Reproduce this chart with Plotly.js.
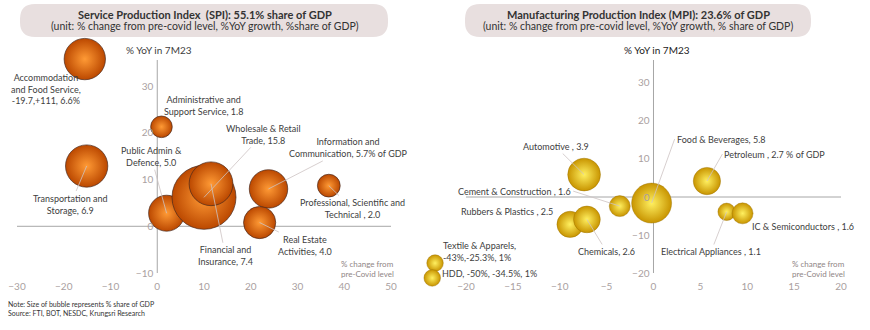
<!DOCTYPE html>
<html><head><meta charset="utf-8">
<script src="https://cdn.plot.ly/plotly-3.0.1.min.js"></script>
<style>html,body{margin:0;padding:0;background:#fff}#chart{width:870px;height:330px}</style>
</head><body><div id="chart"></div>
<script>
// ---------- Service Production Index (left) ----------
const svcNames = ['Accommodation and Food Service','Administrative and Support Service','Transportation and Storage','Public Admin & Defence','Wholesale & Retail Trade','Financial and Insurance','Information and Communication','Professional, Scientific and Technical','Real Estate Activities'];
const svcX = [-15.5, 0.9, -15.1, 2.0, 10.0, 11.5, 23.8, 36.7, 21.9];      // % change from pre-Covid level
const svcY = [35.8, 21.3, 12.9, 2.8, 6.2, 9.1, 8.0, 8.7, 0.8];           // % YoY in 7M23
const svcShare = [6.6, 1.8, 6.9, 5.0, 15.8, 7.4, 5.7, 2.0, 4.0];         // % share of GDP
const svcLabels = ['Accommodation<br>and Food Service,<br>-19.7,+111, 6.6%','Administrative and<br>Support Service, 1.8','Transportation and<br>Storage, 6.9','Public Admin &<br>Defence, 5.0','Wholesale & Retail<br>Trade, 15.8','Financial and<br>Insurance, 7.4','Information and<br>Communication, 5.7% of GDP','Professional, Scientific and<br>Technical , 2.0','Real Estate<br>Activities, 4.0'];
const svcXTicks = [-30,-20,-10,0,10,20,30,40,50];
const svcYTicks = [-10,0,10,20,30];

// ---------- Manufacturing Production Index (right) ----------
const mfgNames = ['Automotive','Petroleum','Food & Beverages','Cement & Construction','Rubbers & Plastics','Chemicals','Electrical Appliances','IC & Semiconductors','Textile & Apparels','HDD'];
const mfgX = [-7.4, 5.7, -0.2, -3.6, -8.9, -7.1, 7.8, 9.5, -23.3, -23.6];
const mfgY = [5.9, 4.2, -1.6, -2.4, -7.2, -5.9, -3.9, -4.3, -17.4, -21.3];
const mfgShare = [3.9, 2.7, 5.8, 1.6, 2.5, 2.6, 1.1, 1.6, 1, 1];
const mfgLabels = ['Automotive , 3.9','Petroleum , 2.7 % of GDP','Food & Beverages, 5.8','Cement & Construction , 1.6','Rubbers & Plastics , 2.5','Chemicals, 2.6','Electrical Appliances , 1.1','IC & Semiconductors , 1.6','Textile & Apparels,<br>-43%,-25.3%, 1%','HDD, -50%, -34.5%, 1%'];
const mfgXTicks = [-20,-15,-10,-5,0,5,10,15,20];
const mfgYTicks = [-20,-10,0,10,20,30];

// ---------- layout helpers (positions / styles) ----------
const W = 870, H = 330;
const FONT = 'Lato, "Noto Sans", sans-serif';
const px = p => p / W, py = p => 1 - p / H;

// label placement: pixel offset of label from bubble centre, leader line on/off
const svcPlace = [
  {ax:-39, ay:29.5, line:false},
  {ax:42.5, ay:-21, line:false},
  {ax:-16, ay:38, line:true},
  {ax:-15.5, ay:-56.5, line:true},
  {ax:59, ay:-63, line:true},
  {ax:14.5, ay:72, line:true},
  {ax:79.5, ay:-41, line:true},
  {ax:23.5, ay:23, line:true},
  {ax:45.5, ay:22.5, line:true}
];
const mfgPlace = [
  {ax:-28.5, ay:-28, line:true},
  {ax:15.5, ay:-27, line:true, xanchor:'left'},
  {ax:23, ay:-64, line:true, xanchor:'left'},
  {ax:-46.5, ay:-15, line:true, xanchor:'right'},
  {ax:-63, ay:-12.5, line:false},
  {ax:19.5, ay:32, line:true},
  {ax:-15.5, ay:39.7, line:true},
  {ax:60.5, ay:13.5, line:false},
  {ax:6, ay:-12, line:false, xanchor:'left', align:'left'},
  {ax:8, ay:-4, line:false, xanchor:'left', align:'left'}
];

function roundRect(x0, y0, x1, y1, r) {
  const P = (x, y) => px(x) + ',' + py(y);
  return 'M' + P(x0 + r, y0) + ' L' + P(x1 - r, y0) + ' Q' + P(x1, y0) + ' ' + P(x1, y0 + r) +
    ' L' + P(x1, y1 - r) + ' Q' + P(x1, y1) + ' ' + P(x1 - r, y1) +
    ' L' + P(x0 + r, y1) + ' Q' + P(x0, y1) + ' ' + P(x0, y1 - r) +
    ' L' + P(x0, y0 + r) + ' Q' + P(x0, y0) + ' ' + P(x0 + r, y0) + ' Z';
}

function bubbleTrace(x, y, s, names, xa, ya, sizeref, edge, centre, rim) {
  return {
    type: 'scatter', mode: 'markers', x: x, y: y, text: names, xaxis: xa, yaxis: ya,
    cliponaxis: false, hoverinfo: 'text',
    marker: { size: s, sizemode: 'area', sizeref: sizeref, color: edge,
      gradient: { type: 'radial', color: centre },
      line: { width: 0.8, color: rim }, opacity: 1 }
  };
}

function labelAnns(x, y, labels, place, xref, yref) {
  return labels.map((t, i) => ({
    xref: xref, yref: yref, x: x[i], y: y[i], text: t,
    showarrow: true, arrowhead: 0, arrowwidth: 0.8, standoff: 0,
    arrowcolor: place[i].line ? '#cdc3c3' : 'rgba(0,0,0,0)',
    ax: place[i].ax, ay: place[i].ay,
    xanchor: place[i].xanchor || 'center', yanchor: 'middle',
    align: place[i].align || 'center',
    font: { family: FONT, size: 9, color: '#404040' }
  }));
}

const traces = [
  bubbleTrace(svcX, svcY, svcShare, svcNames, 'x', 'y', 2 * 15.8 / (64 * 64), '#bb4800', '#ff9a35', 'rgba(70,40,30,0.85)'),
  bubbleTrace(mfgX, mfgY, mfgShare, mfgNames, 'x2', 'y2', 2 * 5.8 / (40 * 40), '#c89400', '#fff060', 'rgba(150,110,0,0.5)')
];

const tickFont = { family: FONT, size: 10, color: '#aa9f9f' };
const axisBase = { showgrid: false, showline: false, ticks: '', zeroline: false, tickfont: tickFont, fixedrange: true };
const axisLine = { color: '#a6a6a6', width: 1 };

function ann(x, y, text, size, color, opts) {
  return Object.assign({ xref: 'paper', yref: 'paper', x: px(x), y: py(y), text: text, showarrow: false,
    xanchor: 'center', yanchor: 'middle', font: { family: FONT, size: size, color: color } }, opts || {});
}

const annotations = [
  ann(204.5, 14, '<b>Service Production Index\u00a0 (SPI): 55.1% share of GDP</b>', 11, '#333333'),
  ann(205, 26, '(unit: % change from pre-covid level, %YoY growth, %share of GDP)', 10.5, '#333333'),
  ann(638.5, 14, '<b>Manufacturing Production Index (MPI): 23.6% of GDP</b>', 11, '#333333'),
  ann(638, 26, '(unit: % change from pre-covid level, %YoY growth, % share of GDP)', 10.5, '#333333'),
  ann(158.5, 50, '% YoY in 7M23', 10, '#404040'),
  ann(657, 50, '% YoY in 7M23', 10, '#222222'),
  ann(339, 268.5, '% change from<br>pre-Covid level', 8, '#8f8585', { xanchor: 'left', align: 'left' }),
  ann(790, 268.5, '% change from<br>pre-Covid level', 8, '#8f8585', { xanchor: 'left', align: 'left' }),
  ann(6, 309, 'Note: Size of bubble represents % share of GDP<br>Source: FTI, BOT, NESDC, Krungsri Research', 7, '#333333', { xanchor: 'left', align: 'left' })
].concat(labelAnns(svcX, svcY, svcLabels, svcPlace, 'x', 'y'))
 .concat(labelAnns(mfgX, mfgY, mfgLabels, mfgPlace, 'x2', 'y2'));

const layout = {
  width: W, height: H, margin: { l: 0, r: 0, t: 0, b: 0 },
  paper_bgcolor: '#ffffff', plot_bgcolor: 'rgba(0,0,0,0)',
  showlegend: false, font: { family: FONT },
  // left: -30..50 over 17..391 px; y -10 at 273px, 4.671 px/unit
  xaxis: Object.assign({}, axisBase, { domain: [px(17), px(391)], range: [-30, 50], tickvals: svcXTicks, anchor: 'free', position: py(273), ticklabelstandoff: 6 }),
  yaxis: Object.assign({}, axisBase, { domain: [py(273), py(39.45)], range: [-10, 40], tickvals: svcYTicks, anchor: 'free', position: px(157.25), ticklabelstandoff: 4 }),
  // right: 9.375 px/unit, -20 at 466px; y 3.8 px/unit, -20 at 273px
  xaxis2: Object.assign({}, axisBase, { domain: [px(419.1), px(841)], range: [-25, 20], tickvals: mfgXTicks, anchor: 'free', position: py(273), ticklabelstandoff: 6 }),
  yaxis2: Object.assign({}, axisBase, { domain: [py(284.4), py(60)], range: [-23, 36.05], tickvals: mfgYTicks, anchor: 'free', position: px(653.5), ticklabelstandoff: 4 }),
  shapes: [
    { type: 'path', xref: 'paper', yref: 'paper', path: roundRect(20, 4, 388, 37, 15), fillcolor: '#e8dfdf', line: { width: 0 }, layer: 'below' },
    { type: 'path', xref: 'paper', yref: 'paper', path: roundRect(465, 4, 811, 37, 15), fillcolor: '#e8dfdf', line: { width: 0 }, layer: 'below' },
    { type: 'line', xref: 'x', yref: 'y', x0: svcXTicks[0], x1: svcXTicks[svcXTicks.length - 1], y0: 0, y1: 0, line: axisLine, layer: 'below' },
    { type: 'line', xref: 'x', yref: 'y', x0: 0, x1: 0, y0: svcYTicks[0], y1: 35.6, line: axisLine, layer: 'below' },
    { type: 'line', xref: 'x2', yref: 'y2', x0: mfgXTicks[0], x1: mfgXTicks[mfgXTicks.length - 1], y0: 0, y1: 0, line: axisLine, layer: 'below' },
    { type: 'line', xref: 'x2', yref: 'y2', x0: 0, x1: 0, y0: mfgYTicks[0], y1: 36.05, line: axisLine, layer: 'below' }
  ],
  annotations: annotations
};

Plotly.newPlot('chart', traces, layout, { displayModeBar: false, staticPlot: true });
</script>
</body></html>
